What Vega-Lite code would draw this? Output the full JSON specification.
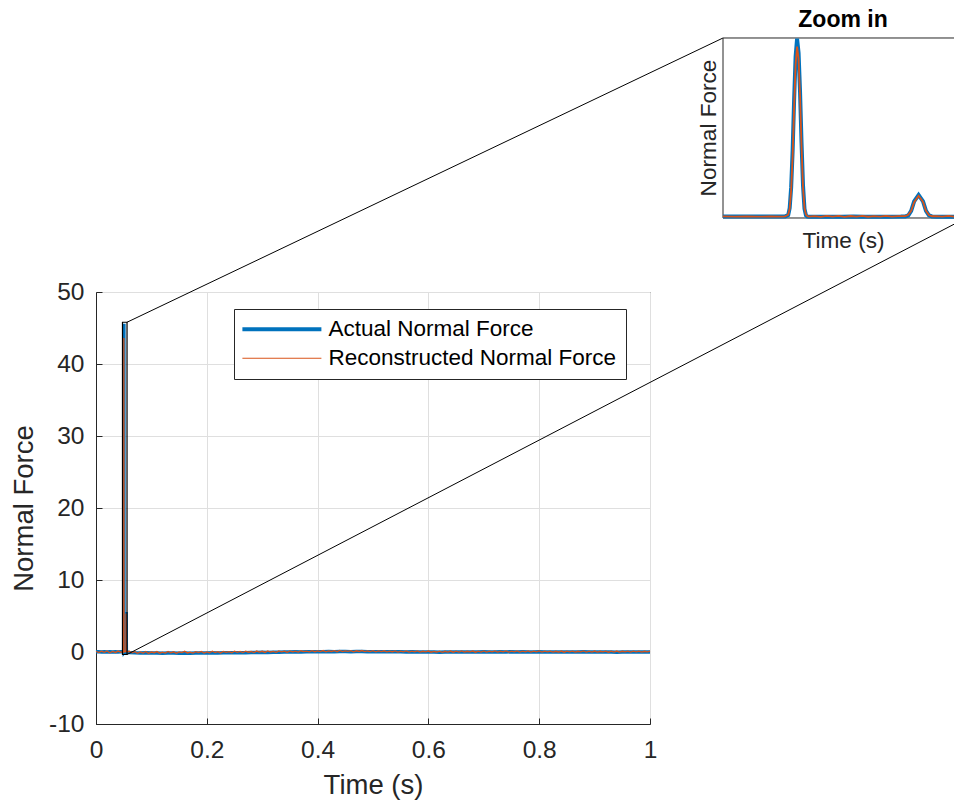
{
  "$schema": "https://vega.github.io/schema/vega-lite/v6.json",
  "width": 554,
  "height": 432,
  "autosize": {"type": "none"},
  "padding": {"left": 96, "top": 292, "right": 304, "bottom": 77},
  "background": "white",
  "datasets": {
    "actual": [
      {"t": 0, "f": 0.02}, {"t": 0.005, "f": 0.04}, {"t": 0.01, "f": 0.0}, {"t": 0.015, "f": 0.03}, {"t": 0.02, "f": -0.01},
      {"t": 0.025, "f": 0.03}, {"t": 0.03, "f": 0.01}, {"t": 0.035, "f": 0.04}, {"t": 0.04, "f": 0.01}, {"t": 0.045, "f": 0.03},
      {"t": 0.0478, "f": 0.02}, {"t": 0.0482, "f": 0.03}, {"t": 0.0486, "f": 0.01}, {"t": 0.049, "f": 0.03}, {"t": 0.0494, "f": 0.02},
      {"t": 0.0498, "f": 0.03}, {"t": 0.0499, "f": 0.05}, {"t": 0.05, "f": 0.4}, {"t": 0.05005, "f": 2.2}, {"t": 0.0501, "f": 7.5},
      {"t": 0.05015, "f": 17}, {"t": 0.0502, "f": 30}, {"t": 0.05025, "f": 41}, {"t": 0.0503, "f": 45.6}, {"t": 0.05035, "f": 42},
      {"t": 0.0504, "f": 32}, {"t": 0.05045, "f": 19}, {"t": 0.0505, "f": 8}, {"t": 0.05055, "f": 2}, {"t": 0.0506, "f": 0.3},
      {"t": 0.05065, "f": 0.0}, {"t": 0.0507, "f": -0.05}, {"t": 0.051, "f": -0.02}, {"t": 0.0514, "f": 0.0}, {"t": 0.0518, "f": -0.03},
      {"t": 0.0522, "f": 0.01}, {"t": 0.0526, "f": -0.02}, {"t": 0.053, "f": 0.0}, {"t": 0.0534, "f": -0.02}, {"t": 0.0538, "f": 0.01},
      {"t": 0.05395, "f": 0.05}, {"t": 0.05405, "f": 0.3}, {"t": 0.05415, "f": 1.5}, {"t": 0.05425, "f": 3.9}, {"t": 0.0544, "f": 5.55},
      {"t": 0.05455, "f": 3.9}, {"t": 0.05465, "f": 1.5}, {"t": 0.05475, "f": 0.35}, {"t": 0.05485, "f": 0.05}, {"t": 0.055, "f": -0.02},
      {"t": 0.0554, "f": 0.0}, {"t": 0.0558, "f": -0.03}, {"t": 0.056, "f": -0.02},
      {"t": 0.06, "f": -0.08}, {"t": 0.07, "f": -0.12}, {"t": 0.08, "f": -0.14}, {"t": 0.09, "f": -0.12}, {"t": 0.1, "f": -0.15},
      {"t": 0.11, "f": -0.13}, {"t": 0.12, "f": -0.16}, {"t": 0.13, "f": -0.14}, {"t": 0.14, "f": -0.15}, {"t": 0.15, "f": -0.17},
      {"t": 0.16, "f": -0.14}, {"t": 0.17, "f": -0.16}, {"t": 0.18, "f": -0.15}, {"t": 0.19, "f": -0.13}, {"t": 0.2, "f": -0.15},
      {"t": 0.21, "f": -0.12}, {"t": 0.22, "f": -0.13}, {"t": 0.23, "f": -0.11}, {"t": 0.24, "f": -0.12}, {"t": 0.25, "f": -0.1},
      {"t": 0.26, "f": -0.09}, {"t": 0.27, "f": -0.1}, {"t": 0.28, "f": -0.07}, {"t": 0.29, "f": -0.08}, {"t": 0.3, "f": -0.05},
      {"t": 0.31, "f": -0.06}, {"t": 0.32, "f": -0.03}, {"t": 0.33, "f": -0.04}, {"t": 0.34, "f": -0.01}, {"t": 0.35, "f": 0.0},
      {"t": 0.36, "f": 0.02}, {"t": 0.37, "f": 0.01}, {"t": 0.38, "f": 0.03}, {"t": 0.39, "f": 0.04}, {"t": 0.4, "f": 0.05},
      {"t": 0.41, "f": 0.04}, {"t": 0.42, "f": 0.06}, {"t": 0.43, "f": 0.05}, {"t": 0.44, "f": 0.07}, {"t": 0.45, "f": 0.06},
      {"t": 0.46, "f": 0.05}, {"t": 0.47, "f": 0.07}, {"t": 0.48, "f": 0.06}, {"t": 0.49, "f": 0.05}, {"t": 0.5, "f": 0.04},
      {"t": 0.51, "f": 0.05}, {"t": 0.52, "f": 0.03}, {"t": 0.53, "f": 0.04}, {"t": 0.54, "f": 0.02}, {"t": 0.55, "f": 0.03},
      {"t": 0.56, "f": 0.01}, {"t": 0.57, "f": 0.02}, {"t": 0.58, "f": 0.0}, {"t": 0.59, "f": 0.01}, {"t": 0.6, "f": -0.01},
      {"t": 0.61, "f": 0.0}, {"t": 0.62, "f": -0.02}, {"t": 0.63, "f": 0.0}, {"t": 0.64, "f": -0.01}, {"t": 0.65, "f": 0.01},
      {"t": 0.66, "f": 0.0}, {"t": 0.67, "f": -0.01}, {"t": 0.68, "f": 0.01}, {"t": 0.69, "f": 0.0}, {"t": 0.7, "f": 0.02},
      {"t": 0.71, "f": 0.01}, {"t": 0.72, "f": 0.0}, {"t": 0.73, "f": 0.02}, {"t": 0.74, "f": 0.01}, {"t": 0.75, "f": 0.03},
      {"t": 0.76, "f": 0.01}, {"t": 0.77, "f": 0.02}, {"t": 0.78, "f": 0.0}, {"t": 0.79, "f": 0.01}, {"t": 0.8, "f": 0.02},
      {"t": 0.81, "f": 0.0}, {"t": 0.82, "f": 0.01}, {"t": 0.83, "f": -0.01}, {"t": 0.84, "f": 0.0}, {"t": 0.85, "f": 0.01},
      {"t": 0.86, "f": -0.01}, {"t": 0.87, "f": 0.0}, {"t": 0.88, "f": 0.02}, {"t": 0.89, "f": 0.0}, {"t": 0.9, "f": 0.01},
      {"t": 0.91, "f": -0.01}, {"t": 0.92, "f": 0.0}, {"t": 0.93, "f": 0.01}, {"t": 0.94, "f": -0.02}, {"t": 0.95, "f": 0.0},
      {"t": 0.96, "f": 0.01}, {"t": 0.97, "f": -0.01}, {"t": 0.98, "f": 0.0}, {"t": 0.99, "f": 0.01}, {"t": 1.0, "f": 0.0}
    ],
    "recon": [
      {"t": 0, "f": 0.1}, {"t": 0.005, "f": -0.08}, {"t": 0.01, "f": 0.12}, {"t": 0.015, "f": -0.05}, {"t": 0.02, "f": 0.15},
      {"t": 0.025, "f": -0.1}, {"t": 0.03, "f": 0.09}, {"t": 0.035, "f": -0.06}, {"t": 0.04, "f": 0.13}, {"t": 0.045, "f": -0.04},
      {"t": 0.0478, "f": 0.05}, {"t": 0.0482, "f": 0.02}, {"t": 0.0486, "f": 0.06}, {"t": 0.049, "f": 0.0}, {"t": 0.0494, "f": 0.05},
      {"t": 0.0498, "f": 0.02}, {"t": 0.0499, "f": 0.06}, {"t": 0.05, "f": 0.5}, {"t": 0.05005, "f": 2.0}, {"t": 0.0501, "f": 6.8},
      {"t": 0.05015, "f": 15.5}, {"t": 0.0502, "f": 28}, {"t": 0.05025, "f": 39}, {"t": 0.0503, "f": 43.6}, {"t": 0.05035, "f": 40.5},
      {"t": 0.0504, "f": 31}, {"t": 0.05045, "f": 18}, {"t": 0.0505, "f": 7.5}, {"t": 0.05055, "f": 2.2}, {"t": 0.0506, "f": 0.5},
      {"t": 0.05065, "f": 0.1}, {"t": 0.0507, "f": 0.0}, {"t": 0.0509, "f": 0.15}, {"t": 0.0511, "f": -0.05}, {"t": 0.0513, "f": 0.2},
      {"t": 0.0515, "f": 0.0}, {"t": 0.0517, "f": 0.18}, {"t": 0.0519, "f": -0.04}, {"t": 0.0521, "f": 0.16}, {"t": 0.0523, "f": 0.02},
      {"t": 0.0525, "f": 0.2}, {"t": 0.0527, "f": -0.03}, {"t": 0.0529, "f": 0.15}, {"t": 0.0531, "f": 0.0}, {"t": 0.0533, "f": 0.18},
      {"t": 0.0535, "f": -0.02}, {"t": 0.0537, "f": 0.14}, {"t": 0.05395, "f": 0.15}, {"t": 0.05405, "f": 0.45}, {"t": 0.05415, "f": 1.5},
      {"t": 0.05425, "f": 3.7}, {"t": 0.0544, "f": 5.35}, {"t": 0.05455, "f": 3.8}, {"t": 0.05465, "f": 1.5}, {"t": 0.05475, "f": 0.4},
      {"t": 0.05485, "f": 0.1}, {"t": 0.055, "f": 0.15}, {"t": 0.0552, "f": -0.02}, {"t": 0.0554, "f": 0.17}, {"t": 0.0556, "f": 0.0},
      {"t": 0.0558, "f": 0.16}, {"t": 0.056, "f": 0.02},
      {"t": 0.06, "f": 0.1}, {"t": 0.065, "f": -0.12}, {"t": 0.07, "f": 0.05}, {"t": 0.075, "f": -0.18}, {"t": 0.08, "f": 0.02},
      {"t": 0.085, "f": -0.15}, {"t": 0.09, "f": 0.08}, {"t": 0.095, "f": -0.2}, {"t": 0.1, "f": 0.0}, {"t": 0.105, "f": -0.1},
      {"t": 0.11, "f": 0.06}, {"t": 0.115, "f": -0.17}, {"t": 0.12, "f": -0.02}, {"t": 0.125, "f": -0.14}, {"t": 0.13, "f": 0.07},
      {"t": 0.135, "f": -0.12}, {"t": 0.14, "f": 0.03}, {"t": 0.145, "f": -0.19}, {"t": 0.15, "f": 0.01}, {"t": 0.155, "f": -0.08},
      {"t": 0.16, "f": 0.09}, {"t": 0.165, "f": -0.13}, {"t": 0.17, "f": -0.01}, {"t": 0.175, "f": -0.16}, {"t": 0.18, "f": 0.05},
      {"t": 0.185, "f": -0.09}, {"t": 0.19, "f": 0.08}, {"t": 0.195, "f": -0.14}, {"t": 0.2, "f": 0.02}, {"t": 0.205, "f": -0.11},
      {"t": 0.21, "f": 0.1}, {"t": 0.215, "f": -0.07}, {"t": 0.22, "f": 0.04}, {"t": 0.225, "f": -0.13}, {"t": 0.23, "f": 0.09},
      {"t": 0.235, "f": -0.06}, {"t": 0.24, "f": 0.05}, {"t": 0.245, "f": -0.1}, {"t": 0.25, "f": 0.12}, {"t": 0.255, "f": -0.05},
      {"t": 0.26, "f": 0.08}, {"t": 0.265, "f": -0.09}, {"t": 0.27, "f": 0.11}, {"t": 0.275, "f": -0.03}, {"t": 0.28, "f": 0.07},
      {"t": 0.285, "f": -0.08}, {"t": 0.29, "f": 0.13}, {"t": 0.295, "f": -0.02}, {"t": 0.3, "f": 0.1}, {"t": 0.305, "f": -0.06},
      {"t": 0.31, "f": 0.14}, {"t": 0.315, "f": 0.0}, {"t": 0.32, "f": 0.09}, {"t": 0.325, "f": -0.04}, {"t": 0.33, "f": 0.15},
      {"t": 0.335, "f": 0.02}, {"t": 0.34, "f": 0.11}, {"t": 0.345, "f": -0.03}, {"t": 0.35, "f": 0.16}, {"t": 0.355, "f": 0.03},
      {"t": 0.36, "f": 0.13}, {"t": 0.365, "f": 0.0}, {"t": 0.37, "f": 0.17}, {"t": 0.375, "f": 0.05}, {"t": 0.38, "f": 0.12},
      {"t": 0.385, "f": 0.02}, {"t": 0.39, "f": 0.19}, {"t": 0.395, "f": 0.04}, {"t": 0.4, "f": 0.15}, {"t": 0.405, "f": 0.06},
      {"t": 0.41, "f": 0.2}, {"t": 0.415, "f": 0.03}, {"t": 0.42, "f": 0.16}, {"t": 0.425, "f": 0.07}, {"t": 0.43, "f": 0.18},
      {"t": 0.435, "f": 0.04}, {"t": 0.44, "f": 0.21}, {"t": 0.445, "f": 0.06}, {"t": 0.45, "f": 0.15}, {"t": 0.455, "f": 0.08},
      {"t": 0.46, "f": 0.19}, {"t": 0.465, "f": 0.03}, {"t": 0.47, "f": 0.17}, {"t": 0.475, "f": 0.07}, {"t": 0.48, "f": 0.2},
      {"t": 0.485, "f": 0.05}, {"t": 0.49, "f": 0.14}, {"t": 0.495, "f": 0.06}, {"t": 0.5, "f": 0.18}, {"t": 0.505, "f": 0.02},
      {"t": 0.51, "f": 0.15}, {"t": 0.515, "f": 0.05}, {"t": 0.52, "f": 0.17}, {"t": 0.525, "f": 0.01}, {"t": 0.53, "f": 0.13},
      {"t": 0.535, "f": 0.04}, {"t": 0.54, "f": 0.16}, {"t": 0.545, "f": 0.0}, {"t": 0.55, "f": 0.12}, {"t": 0.555, "f": 0.03},
      {"t": 0.56, "f": 0.15}, {"t": 0.565, "f": -0.01}, {"t": 0.57, "f": 0.11}, {"t": 0.575, "f": 0.02}, {"t": 0.58, "f": 0.14},
      {"t": 0.585, "f": -0.02}, {"t": 0.59, "f": 0.1}, {"t": 0.595, "f": 0.01}, {"t": 0.6, "f": 0.13}, {"t": 0.605, "f": -0.03},
      {"t": 0.61, "f": 0.09}, {"t": 0.615, "f": 0.0}, {"t": 0.62, "f": 0.12}, {"t": 0.625, "f": -0.04}, {"t": 0.63, "f": 0.1},
      {"t": 0.635, "f": -0.01}, {"t": 0.64, "f": 0.13}, {"t": 0.645, "f": -0.03}, {"t": 0.65, "f": 0.11}, {"t": 0.655, "f": 0.0},
      {"t": 0.66, "f": 0.14}, {"t": 0.665, "f": -0.02}, {"t": 0.67, "f": 0.1}, {"t": 0.675, "f": 0.01}, {"t": 0.68, "f": 0.13},
      {"t": 0.685, "f": -0.03}, {"t": 0.69, "f": 0.12}, {"t": 0.695, "f": 0.0}, {"t": 0.7, "f": 0.15}, {"t": 0.705, "f": -0.01},
      {"t": 0.71, "f": 0.11}, {"t": 0.715, "f": 0.02}, {"t": 0.72, "f": 0.14}, {"t": 0.725, "f": -0.02}, {"t": 0.73, "f": 0.12},
      {"t": 0.735, "f": 0.01}, {"t": 0.74, "f": 0.15}, {"t": 0.745, "f": 0.0}, {"t": 0.75, "f": 0.13}, {"t": 0.755, "f": 0.03},
      {"t": 0.76, "f": 0.16}, {"t": 0.765, "f": -0.01}, {"t": 0.77, "f": 0.12}, {"t": 0.775, "f": 0.02}, {"t": 0.78, "f": 0.14},
      {"t": 0.785, "f": -0.02}, {"t": 0.79, "f": 0.11}, {"t": 0.795, "f": 0.01}, {"t": 0.8, "f": 0.14}, {"t": 0.805, "f": -0.01},
      {"t": 0.81, "f": 0.12}, {"t": 0.815, "f": 0.02}, {"t": 0.82, "f": 0.13}, {"t": 0.825, "f": -0.02}, {"t": 0.83, "f": 0.1},
      {"t": 0.835, "f": 0.0}, {"t": 0.84, "f": 0.13}, {"t": 0.845, "f": -0.03}, {"t": 0.85, "f": 0.11}, {"t": 0.855, "f": 0.01},
      {"t": 0.86, "f": 0.12}, {"t": 0.865, "f": -0.02}, {"t": 0.87, "f": 0.1}, {"t": 0.875, "f": 0.02}, {"t": 0.88, "f": 0.14},
      {"t": 0.885, "f": -0.01}, {"t": 0.89, "f": 0.11}, {"t": 0.895, "f": 0.0}, {"t": 0.9, "f": 0.13}, {"t": 0.905, "f": -0.02},
      {"t": 0.91, "f": 0.1}, {"t": 0.915, "f": 0.01}, {"t": 0.92, "f": 0.12}, {"t": 0.925, "f": -0.03}, {"t": 0.93, "f": 0.11},
      {"t": 0.935, "f": 0.0}, {"t": 0.94, "f": 0.13}, {"t": 0.945, "f": -0.02}, {"t": 0.95, "f": 0.1}, {"t": 0.955, "f": 0.01},
      {"t": 0.96, "f": 0.12}, {"t": 0.965, "f": -0.01}, {"t": 0.97, "f": 0.11}, {"t": 0.975, "f": 0.02}, {"t": 0.98, "f": 0.13},
      {"t": 0.985, "f": -0.02}, {"t": 0.99, "f": 0.1}, {"t": 0.995, "f": 0.01}, {"t": 1.0, "f": 0.12}
    ],
    "zoombox": [{"x": 0.0478, "x2": 0.056, "y": -0.35, "y2": 45.8}],
    "links": [
      {"x": 0.056, "y": 45.8, "x2": 1.13177, "y2": 85.278},
      {"x": 0.056, "y": -0.35, "x2": 1.5704, "y2": 60.278}
    ],
    "frame": [{"x": 1.13177, "x2": 1.5704, "y": 60.278, "y2": 85.278}]
  },
  "layer": [
    {
      "layer": [
        {
          "data": {"name": "actual"},
          "mark": {"type": "line", "strokeWidth": 3.5},
          "encoding": {
            "x": {
              "field": "t", "type": "quantitative",
              "scale": {"domain": [0, 1], "nice": false, "zero": false},
              "axis": {"values": [0, 0.2, 0.4, 0.6, 0.8, 1], "format": "~g", "title": "Time (s)", "labelFlush": false, "labelPadding": 20, "titlePadding": 10}
            },
            "y": {
              "field": "f", "type": "quantitative",
              "scale": {"domain": [-10, 50], "nice": false, "zero": false},
              "axis": {"values": [-10, 0, 10, 20, 30, 40, 50], "labelExpr": "datum.value < 0 ? '-' + abs(datum.value) : '' + datum.value", "title": "Normal Force", "labelPadding": 18, "titlePadding": 10.5}
            },
            "color": {
              "datum": "Actual Normal Force", "type": "nominal",
              "scale": {"domain": ["Actual Normal Force", "Reconstructed Normal Force"], "range": ["#0072BD", "#D95319"]},
              "legend": {
                "title": null,
                "encode": {"symbols": {"update": {"strokeWidth": {"signal": "datum.value === 'Actual Normal Force' ? 4 : 1.2"}}}}
              }
            }
          }
        },
        {
          "data": {"name": "recon"},
          "mark": {"type": "line", "strokeWidth": 1.3},
          "encoding": {
            "x": {"field": "t", "type": "quantitative"},
            "y": {"field": "f", "type": "quantitative"},
            "color": {"datum": "Reconstructed Normal Force", "type": "nominal"}
          }
        },
        {
          "data": {"name": "zoombox"},
          "mark": {"type": "rect", "fill": "transparent", "stroke": "black", "strokeWidth": 1.2},
          "encoding": {
            "x": {"field": "x", "type": "quantitative"}, "x2": {"field": "x2"},
            "y": {"field": "y", "type": "quantitative"}, "y2": {"field": "y2"}
          }
        },
        {
          "data": {"name": "links"},
          "mark": {"type": "rule", "stroke": "black", "strokeWidth": 1},
          "encoding": {
            "x": {"field": "x", "type": "quantitative"}, "x2": {"field": "x2"},
            "y": {"field": "y", "type": "quantitative"}, "y2": {"field": "y2"}
          }
        },
        {
          "data": {"name": "frame"},
          "mark": {"type": "rect", "fill": "white", "stroke": "#262626", "strokeWidth": 1},
          "encoding": {
            "x": {"field": "x", "type": "quantitative"}, "x2": {"field": "x2"},
            "y": {"field": "y", "type": "quantitative"}, "y2": {"field": "y2"}
          }
        },
        {
          "data": {"values": [{"label": "Zoom in"}]},
          "mark": {"type": "text", "font": "Liberation Sans", "fontSize": 23, "fontWeight": "bold", "color": "black", "align": "center", "baseline": "alphabetic"},
          "encoding": {
            "x": {"datum": 1.3484, "type": "quantitative"},
            "y": {"datum": 86.806, "type": "quantitative"},
            "text": {"field": "label"}
          }
        },
        {
          "data": {"values": [{"label": "Time (s)"}]},
          "mark": {"type": "text", "font": "Liberation Sans", "fontSize": 22.6, "color": "#262626", "align": "center", "baseline": "alphabetic"},
          "encoding": {
            "x": {"datum": 1.3493, "type": "quantitative"},
            "y": {"datum": 56.18, "type": "quantitative"},
            "text": {"field": "label"}
          }
        },
        {
          "data": {"values": [{"label": "Normal Force"}]},
          "mark": {"type": "text", "font": "Liberation Sans", "fontSize": 22.6, "color": "#262626", "align": "center", "baseline": "alphabetic", "angle": 270},
          "encoding": {
            "x": {"datum": 1.1191, "type": "quantitative"},
            "y": {"datum": 72.78, "type": "quantitative"},
            "text": {"field": "label"}
          }
        }
      ]
    },
    {
      "layer": [
        {
          "data": {"name": "actual"},
          "transform": [{"filter": "datum.t >= 0.0478 && datum.t <= 0.056"}],
          "mark": {"type": "line", "strokeWidth": 4},
          "encoding": {
            "x": {"field": "t", "type": "quantitative", "scale": {"domain": [0.0478, 0.056], "range": [627, 870], "nice": false, "zero": false}, "axis": null},
            "y": {"field": "f", "type": "quantitative", "scale": {"domain": [-0.35, 45.8], "range": [-74, -254], "nice": false, "zero": false}, "axis": null},
            "color": {"datum": "Actual Normal Force", "type": "nominal"}
          }
        },
        {
          "data": {"name": "recon"},
          "transform": [{"filter": "datum.t >= 0.0478 && datum.t <= 0.056"}],
          "mark": {"type": "line", "strokeWidth": 1.8},
          "encoding": {
            "x": {"field": "t", "type": "quantitative"},
            "y": {"field": "f", "type": "quantitative"},
            "color": {"datum": "Reconstructed Normal Force", "type": "nominal"}
          }
        }
      ]
    }
  ],
  "resolve": {"scale": {"x": "independent", "y": "independent"}},
  "config": {
    "font": "Liberation Sans",
    "view": {"stroke": "#262626", "strokeWidth": 1},
    "axis": {
      "labelFont": "Liberation Sans", "titleFont": "Liberation Sans",
      "labelFontSize": 24.5, "titleFontSize": 27.5, "titleFontWeight": "normal",
      "labelColor": "#262626", "titleColor": "#262626",
      "domainColor": "#262626", "tickColor": "#262626", "tickSize": -6, "tickWidth": 1, "domainWidth": 1,
      "grid": true, "gridColor": "#dfdfdf", "gridWidth": 1
    },
    "legend": {
      "orient": "none", "legendX": 138, "legendY": 17,
      "symbolType": "M-1.2,0H6.8", "symbolSize": 390, "symbolStrokeWidth": 4,
      "labelFont": "Liberation Sans", "labelFontSize": 22.5, "labelColor": "black", "labelOffset": 63, "labelLimit": 400,
      "padding": 9, "rowPadding": 6, "strokeColor": "#262626", "fillColor": "white", "cornerRadius": 0
    }
  }
}
